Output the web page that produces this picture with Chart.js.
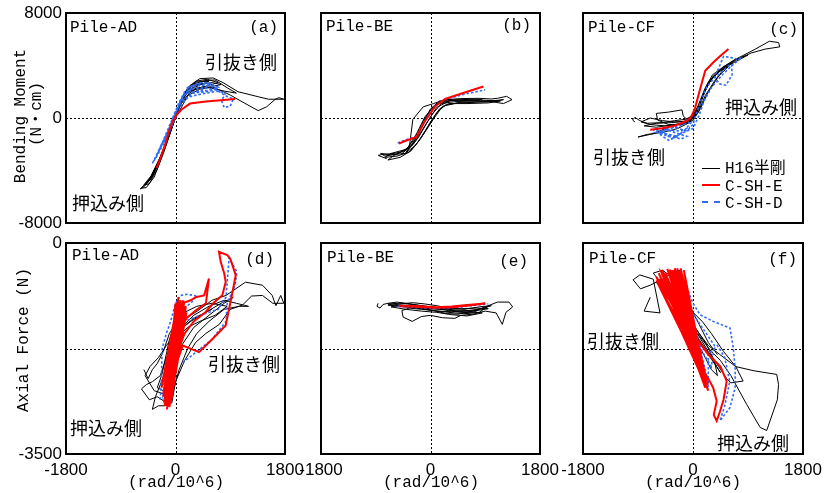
<!DOCTYPE html>
<html><head><meta charset="utf-8">
<script src="https://cdn.jsdelivr.net/npm/chart.js@4/dist/chart.umd.min.js"></script>
<style>
html,body{margin:0;padding:0;background:#fff;}
#wrap{position:relative;width:826px;height:493px;overflow:hidden;background:#fff;}
canvas{position:absolute;}
.t{position:absolute;white-space:nowrap;color:#000;line-height:1;}
.mono{font-family:"Liberation Mono","Noto Sans CJK JP",monospace;font-size:16px;}
.jp{font-family:"Noto Sans CJK JP",sans-serif;font-size:18px;}
.leg{position:absolute;width:18px;height:0;}
</style></head><body><div id="wrap"></div>
<script>
// ---- tick labels ----
const xTicks=[-1800,0,1800];
const yTicksMoment=[8000,0,-8000];
const yTicksAxial=[0,-3500];
const seriesNames=['H16半剛','C-SH-E','C-SH-D'];

// ---- Panel (a) Pile-AD : rotation vs bending moment ----
const aBlack=[[-60,-600],[40,700],[150,1900],[280,2500],[450,2650],[300,2300],[150,1800],[20,300],[-120,-1400],[-280,-3300],[-420,-4650],[-560,-5350],[-480,-5300],[-350,-4500],[-200,-2700],[-70,-900],[60,900],[180,2100],[330,2800],[520,2950],[700,2700],[520,2450],[300,2150],[120,1400],[-30,-300],[-180,-2300],[-350,-4100],[-500,-5100],[-430,-5000],[-300,-3900],[-150,-2000],[-20,-150],[100,1500],[230,2450],[400,3000],[620,3050],[780,2700],[1030,2000],[1360,1620],[1530,1430],[1780,1430],[1700,1550],[1640,1430],[1500,860],[1360,560],[1140,1120],[900,1750],[650,2300],[450,2400],[250,2000],[80,1000],[-80,-1000],[-260,-3100],[-440,-4800],[-580,-5400],[-520,-5250],[-380,-4500],[-230,-2900],[-90,-1000],[40,600],[170,2000],[300,2600],[480,2850],[650,2900],[850,2300],[1000,1900],[800,2050],[560,2300],[350,2300],[180,1900],[60,900],[-100,-1300],[-250,-3000],[-400,-4400],[-520,-5100],[-450,-4900],[-320,-3800],[-180,-2200],[-50,-500],[70,1100],[200,2300],[350,2750],[550,2800],[420,2550],[250,2250],[100,1300],[-40,-500],[-200,-2600],[-370,-4300],[-470,-4950],[-400,-4600],[-270,-3400],[-130,-1600],[10,200],[140,1800],[260,2400],[380,2550],[600,2700],[750,2550],[600,2400],[400,2200],[200,1700],[60,500]];
const aRed=[[-310,-3800],[-250,-3100],[-170,-2050],[-100,-900],[-40,-200],[20,250],[100,650],[240,1100],[500,1250],[750,1350],[980,1450]];
const aBlue=[[-380,-3450],[-300,-2700],[-200,-1700],[-110,-700],[-30,200],[60,1200],[150,2000],[250,2400],[400,2600],[560,2600],[700,2350],[520,2100],[300,2000],[150,1800],[40,700],[-60,-300],[-160,-1500],[-280,-2700],[-360,-3300],[-250,-2300],[-120,-1000],[0,400],[120,1600],[250,2200],[450,2300],[650,2200],[820,1700],[950,1450],[900,900],[800,800],[760,1300],[820,1900],[700,2050],[500,1900],[300,1700],[150,1500],[50,900],[-40,0],[-140,-1200],[-230,-2000],[-330,-3100],[-200,-2000],[-60,-500],[80,1300],[200,2100],[350,2450],[550,2500],[700,2200],[500,2000],[300,1900],[200,2300],[400,2700],[600,2650],[450,2200],[250,1800],[100,1000],[-20,-200],[-180,-1900]];

// ---- Panel (b) Pile-BE ----
const bBlack=[[-720,-3100],[-860,-2850],[-800,-2780],[-600,-2700],[-450,-2550],[-300,-2050],[-170,-900],[-50,300],[100,1100],[250,1400],[500,1480],[800,1500],[1000,1450],[1100,1500],[1250,1650],[1340,1400],[1200,1100],[1000,1250],[800,1250],[500,1200],[250,1000],[100,400],[-50,-700],[-200,-1800],[-350,-2600],[-550,-2900],[-750,-3000],[-650,-2700],[-450,-2450],[-350,-2300],[-290,-100],[-120,850],[50,1100],[250,1400],[650,1380],[900,1350],[1150,1300],[950,1150],[600,1100],[300,1100],[150,700],[0,-300],[-150,-1500],[-320,-2500],[-500,-3000],[-700,-3200],[-600,-2850],[-400,-2400],[-280,-1700],[-130,-400],[0,700],[150,1300],[350,1400],[100,800],[-50,-300],[-200,-1500],[-400,-2600],[-200,-1300],[-100,-100],[30,800],[180,1250],[400,1350],[700,1320],[1000,1300],[1200,1400],[1050,1250],[750,1200],[450,1150],[200,900],[60,0],[-80,-1000],[-250,-2100],[-420,-2700],[-650,-2800],[-820,-2700],[-750,-2900],[-550,-2750],[-380,-2300],[-230,-1200],[-90,100],[80,1000],[300,1300],[600,1420],[850,1430],[700,1300],[400,1250],[180,1100],[30,300],[-120,-800],[-280,-2000],[-480,-2750]];
const bRed=[[-520,-1950],[-420,-1750],[-230,-1450],[-100,-300],[80,900],[240,1450],[500,1850],[870,2400]];
const bBlue=[[-540,-1900],[-400,-1650],[-240,-1450],[-110,-300],[70,900],[230,1400],[500,1750],[900,2150]];

// ---- Panel (c) Pile-CF ----
const cBlack=[[-950,-300],[-990,-150],[-950,50],[-870,-200],[-750,-400],[-500,-350],[-300,-200],[-120,-100],[0,200],[80,900],[200,2300],[320,3300],[500,3900],[750,4600],[1000,5200],[1250,5850],[1400,5750],[1420,5420],[1180,5250],[950,4950],[700,4400],[450,3700],[250,2700],[120,1300],[30,200],[-80,-400],[-250,-800],[-500,-1100],[-750,-1250],[-900,-1450],[-650,-1200],[-400,-700],[-200,-400],[-50,-200],[50,300],[150,1600],[280,2900],[450,3600],[650,4200],[500,3700],[350,2800],[200,1700],[80,400],[-50,-300],[-200,-500],[-400,-500],[-580,-150],[-600,350],[-400,450],[-180,620],[-160,150],[-100,-100],[0,100],[100,1000],[220,2400],[380,3400],[600,4000],[420,3200],[240,1900],[120,700],[0,-200],[-150,-450],[-450,-600],[-700,-500],[-850,-300],[-700,0],[-500,-200],[-300,-300],[-100,-250],[30,100],[100,800],[200,2100],[330,3200],[500,3800],[700,4300],[900,4800],[700,4500],[480,3850],[300,3000],[170,1800],[60,500],[-100,-300],[-300,-500],[-600,-700],[-800,-600],[-600,-400],[-350,-350],[-150,-250],[20,0],[130,1300],[260,2700],[420,3500]];
const cRed=[[-700,-900],[-500,-780],[-290,-570],[-120,-250],[-40,0],[30,700],[110,2100],[200,3600],[330,4230],[450,4750],[580,5250]];
const cBlue=[[-600,-900],[-400,-1300],[-200,-1600],[-100,-1400],[-300,-1100],[-500,-800],[-300,-700],[-100,-1000],[0,-500],[50,300],[120,1200],[230,2400],[360,3100],[470,3500],[560,3900],[630,4100],[640,3300],[540,2500],[430,2600],[350,3200],[420,3800],[500,4700],[630,4600],[720,4500],[800,4600],[650,4050],[480,3300],[300,2300],[180,1300],[100,200],[0,-800],[-200,-1200],[-400,-1700],[-650,-900],[-550,-1200],[-300,-1500],[-150,-1000],[-20,-300],[-500,-1000],[-350,-1600],[-250,-1400],[-450,-1200],[-600,-1100],[-400,-900],[-200,-1000],[-50,-700]];

// ---- Panel (d) Pile-AD : rotation vs axial force ----
const dBlack=[[-520,-2100],[-450,-2250],[-380,-2100],[-300,-2000],[-200,-1800],[-100,-1500],[0,-1350],[150,-1250],[330,-1150],[600,-950],[830,-870],[1150,-650],[1430,-700],[1590,-870],[1650,-1040],[1730,-870],[1780,-1000],[1600,-1000],[1430,-870],[1250,-880],[1100,-1030],[900,-1100],[720,-1350],[500,-1500],[330,-1650],[150,-1950],[0,-2300],[-60,-2650],[-170,-2700],[-280,-2700],[-380,-2760],[-330,-2550],[-230,-2300],[-120,-2000],[-30,-1700],[100,-1400],[300,-1200],[550,-1050],[800,-950],[1000,-1000],[1200,-1050],[1050,-1050],[800,-1100],[550,-1300],[350,-1500],[200,-1750],[60,-2100],[-50,-2500],[-150,-2650],[-300,-2550],[-430,-2600],[-560,-2420],[-480,-2350],[-380,-2300],[-250,-2200],[-150,-1900],[0,-1600],[200,-1400],[400,-1300],[650,-1200],[850,-1050],[600,-1000],[350,-1050],[150,-1150],[0,-1300],[-100,-1600],[-220,-2170],[-300,-2400],[-200,-2450],[-80,-2200],[0,-1500],[250,-1300],[500,-1150],[750,-1000],[950,-900],[800,-1000],[550,-1200],[300,-1400],[100,-1700],[-50,-2100],[-200,-2500],[-350,-2450],[-500,-2200],[-420,-2050],[-280,-1900],[-150,-1700],[50,-1450],[300,-1250],[600,-1100]];
const dRed=[[-180,-2700],[40,-1100],[-160,-2650],[80,-1000],[-140,-2760],[100,-1050],[-120,-2600],[130,-950],[-200,-2550],[20,-1080],[-100,-2720],[150,-1100],[-150,-2480],[60,-950],[-80,-2650],[140,-1000],[-230,-2400],[0,-1150],[-170,-2620],[90,-1080],[-60,-2550],[170,-1050],[-210,-2300],[50,-900],[-130,-2500],[110,-1000],[250,-950],[330,-900],[470,-870],[550,-590],[500,-1000],[330,-1120],[180,-1250],[50,-1500],[-60,-2000],[-90,-2500],[-20,-2100],[120,-1700],[386,-1811],[600,-1600],[825,-1367],[920,-900],[990,-533],[900,-260],[852,-200],[715,-145],[743,-312],[800,-500],[825,-645],[770,-867],[620,-1000],[496,-1145],[300,-1300],[150,-1500],[0,-1900],[-120,-2350],[-190,-2650],[60,-1050],[-150,-2600],[100,-1150],[-110,-2700],[30,-1000],[-190,-2450],[160,-1100],[-70,-2600],[70,-1050],[-130,-2680],[120,-1000],[-220,-2350],[40,-1150],[-90,-2580],[150,-1050],[-170,-2550],[20,-1100],[-100,-2650],[90,-950],[-200,-2500],[180,-1150],[-50,-2450],[0,-1000],[-150,-2700],[110,-1100]];
const dBlue=[[-250,-2600],[-230,-2200],[-220,-1750],[-150,-1500],[-80,-1300],[0,-1000],[80,-870],[200,-850],[350,-880],[250,-1000],[100,-1100],[-50,-1500],[-150,-2000],[-200,-2500],[-100,-2200],[0,-1600],[150,-1300],[400,-1200],[700,-1100],[830,-900],[870,-400],[880,-250],[1010,-480],[980,-700],[850,-1000],[830,-1300],[600,-1600],[350,-1800],[100,-2000]];

// ---- Panel (e) Pile-BE ----
const eBlack=[[-860,-1000],[-880,-1050],[-830,-1080],[-780,-1020],[-700,-1000],[-550,-980],[-400,-1000],[-200,-1030],[0,-1060],[200,-1090],[400,-1110],[600,-1120],[800,-1100],[950,-1050],[800,-1150],[600,-1170],[400,-1160],[200,-1140],[0,-1110],[-200,-1080],[-400,-1060],[-600,-1040],[-700,-1010],[-500,-1000],[-300,-1020],[-100,-1050],[100,-1080],[300,-1120],[500,-1150],[700,-1150],[900,-1060],[1100,-980],[1290,-980],[1350,-1060],[1240,-1150],[1180,-1350],[1080,-1160],[900,-1130],[700,-1180],[500,-1200],[400,-1250],[200,-1240],[0,-1200],[-150,-1220],[-300,-1300],[-450,-1230],[-470,-1120],[-350,-1080],[-150,-1100],[50,-1120],[250,-1170],[450,-1180],[650,-1140],[850,-1080],[1000,-1040],[800,-1060],[550,-1100],[300,-1080],[100,-1040],[-100,-1010],[-300,-990],[-550,-1020],[-700,-1030],[-500,-1050],[-250,-1070],[0,-1090],[250,-1110],[500,-1130],[750,-1120],[950,-1090],[750,-1080],[500,-1090],[250,-1090],[0,-1070],[-250,-1050],[-500,-1030],[-650,-1060],[-400,-1100],[-150,-1130],[100,-1150],[350,-1190],[600,-1210],[850,-1160],[600,-1130],[350,-1140],[100,-1130],[-150,-1090],[-400,-1040]];
const eRed=[[-520,-1040],[-300,-1045],[-100,-1055],[100,-1065],[350,-1055],[600,-1030],[900,-1005],[600,-1040],[350,-1065],[100,-1075],[-100,-1065],[-300,-1055],[-520,-1050]];
const eBlue=[[-540,-1050],[-300,-1060],[0,-1080],[300,-1075],[600,-1050],[950,-1010]];

// ---- Panel (f) Pile-CF ----
const fBlack=[[-700,-900],[-800,-1130],[-540,-1160],[-650,-600],[-870,-530],[-980,-610],[-860,-760],[-700,-700],[-500,-600],[-350,-500],[-220,-450],[-190,-850],[-300,-900],[-450,-700],[-300,-800],[-100,-1100],[0,-1350],[100,-1500],[250,-1700],[440,-1850],[700,-2050],[1000,-2120],[1370,-2180],[1400,-2350],[1380,-2600],[1206,-3110],[1100,-3060],[880,-2680],[620,-2200],[450,-1950],[300,-1800],[150,-1600],[0,-1400],[-150,-1200],[-300,-950],[-450,-700],[-550,-600],[-400,-900],[-250,-1100],[-80,-1300],[100,-1550],[250,-1800],[420,-2050],[550,-2250],[620,-2320],[820,-2290],[700,-2050],[500,-1800],[300,-1500],[150,-1300],[0,-1150],[-200,-900],[-400,-700],[-600,-650],[-450,-850],[-250,-1100],[0,-1350],[200,-1650],[350,-1950],[400,-2200],[300,-2100],[150,-1800],[-50,-1500],[-250,-1200],[-350,-1000],[-500,-700],[-300,-1000],[-100,-1300],[100,-1600],[300,-1900],[450,-2150],[350,-2000],[150,-1700],[-50,-1350],[-250,-1050],[-450,-750],[-650,-500],[-500,-450],[-300,-600],[-100,-950],[100,-1350],[250,-1650],[400,-1850]];
const fRed=[[-500,-450],[50,-1800],[-400,-480],[100,-1900],[-300,-420],[0,-1700],[-550,-600],[150,-2000],[-350,-450],[200,-2300],[-250,-480],[-50,-1500],[-450,-500],[80,-1950],[-200,-420],[120,-2100],[-380,-500],[250,-2450],[-600,-560],[-20,-1600],[-300,-600],[180,-2150],[-150,-450],[60,-1750],[-480,-520],[220,-2400],[-330,-460],[140,-1850],[-420,-650],[-80,-1400],[250,-1849],[450,-2050],[551,-2290],[500,-2600],[440,-2800],[388,-2950],[340,-2850],[388,-2620],[330,-2400],[250,-2250],[100,-2000],[-100,-1300],[-300,-800],[-450,-550],[-520,-480],[100,-2050],[-420,-430],[180,-2300],[-280,-520],[30,-1800],[-560,-500],[130,-2150],[-320,-450],[-30,-1650],[-460,-560],[200,-2400],[-220,-460],[60,-1900],[-380,-440],[160,-2200],[-600,-620],[0,-1750],[-260,-420],[240,-2350],[-180,-520],[90,-2000],[-500,-600]];
const fBlue=[[-300,-500],[-100,-750],[0,-1000],[115,-1190],[330,-1300],[605,-1410],[660,-1740],[690,-2100],[690,-2400],[605,-2730],[442,-2950],[520,-2700],[600,-2300],[520,-1900],[400,-1700],[250,-1850],[250,-2390],[200,-2100],[100,-1700],[-100,-1300],[-200,-1000],[-150,-700],[0,-1300],[150,-1800],[300,-2050],[350,-1700],[150,-1400],[-50,-1100]];

const wrap=document.getElementById('wrap');
const toPts=a=>a.map(p=>({x:p[0],y:p[1]}));

const framePlugin={id:'frame',
  beforeDatasetsDraw(c,args,o){
    const {ctx,chartArea:ca,scales:{x,y}}=c;
    ctx.save();ctx.strokeStyle='#000';ctx.lineWidth=1;ctx.setLineDash([2,2]);
    const x0=Math.round(x.getPixelForValue(0))+0.5;
    const y0=Math.round(y.getPixelForValue(o.yMid))+0.5;
    ctx.beginPath();ctx.moveTo(x0,ca.top);ctx.lineTo(x0,ca.bottom);
    ctx.moveTo(ca.left,y0);ctx.lineTo(ca.right,y0);ctx.stroke();ctx.restore();
  },
  afterDatasetsDraw(c){
    const {ctx,chartArea:ca}=c;
    ctx.save();ctx.strokeStyle='#000';ctx.lineWidth=2;ctx.setLineDash([]);
    ctx.strokeRect(ca.left,ca.top,ca.right-ca.left,ca.bottom-ca.top);ctx.restore();
  }};

const ML=60,MR=30,MT=15,MB=45;
function makePanel(p){
  const cv=document.createElement('canvas');
  const W=p.w+ML+MR,H=p.h+MT+MB;
  cv.width=W;cv.height=H;
  cv.style.left=(p.left-ML)+'px';cv.style.top=(p.top-MT)+'px';
  cv.style.width=W+'px';cv.style.height=H+'px';
  wrap.appendChild(cv);
  const common={showLine:true,pointRadius:0,fill:false,tension:0};
  new Chart(cv,{type:'scatter',
    data:{datasets:[
      Object.assign({label:seriesNames[0],data:toPts(p.black),borderColor:'#000000',borderWidth:1,order:2},common),
      Object.assign({label:seriesNames[2],data:toPts(p.blue),borderColor:'#2f6cf6',borderWidth:1.6,borderDash:[2.5,2],order:1},common),
      Object.assign({label:seriesNames[1],data:toPts(p.red),borderColor:'#ff0000',borderWidth:2,order:0},common)
    ]},
    options:{responsive:false,animation:false,devicePixelRatio:1,
      layout:{padding:{left:0,right:MR,top:MT,bottom:0}},
      plugins:{legend:{display:false},tooltip:{enabled:false},frame:{yMid:p.yMid}},
      scales:{
        x:{type:'linear',min:-1800,max:1800,
          afterBuildTicks:s=>{s.ticks=xTicks.map(v=>({value:v}));},
          afterFit:s=>{s.height=MB;},
          grid:{display:false,drawTicks:false},border:{display:false},
          ticks:{display:p.showX,autoSkip:false,maxRotation:0,padding:6,color:'#000',font:{family:'Liberation Sans',size:17},callback:v=>String(v)}},
        y:{type:'linear',min:p.yMin,max:p.yMax,
          afterBuildTicks:s=>{s.ticks=p.yTicks.map(v=>({value:v}));},
          afterFit:s=>{s.width=ML;},
          grid:{display:false,drawTicks:false},border:{display:false},
          ticks:{display:p.showY,autoSkip:false,padding:4,color:'#000',font:{family:'Liberation Sans',size:17},callback:v=>String(v)}}
      }},
    plugins:[framePlugin]});
}

const panels=[
 {left:66,top:13,w:219,h:210,yMin:-8000,yMax:8000,yMid:0,yTicks:yTicksMoment,showY:true,showX:false,black:aBlack,red:aRed,blue:aBlue},
 {left:321,top:13,w:219,h:210,yMin:-8000,yMax:8000,yMid:0,yTicks:yTicksMoment,showY:false,showX:false,black:bBlack,red:bRed,blue:bBlue},
 {left:583,top:13,w:220,h:210,yMin:-8000,yMax:8000,yMid:0,yTicks:yTicksMoment,showY:false,showX:false,black:cBlack,red:cRed,blue:cBlue},
 {left:66,top:243,w:219,h:211,yMin:-3500,yMax:0,yMid:-1750,yTicks:yTicksAxial,showY:true,showX:true,black:dBlack,red:dRed,blue:dBlue},
 {left:321,top:243,w:219,h:211,yMin:-3500,yMax:0,yMid:-1750,yTicks:yTicksAxial,showY:false,showX:true,black:eBlack,red:eRed,blue:eBlue},
 {left:583,top:243,w:220,h:211,yMin:-3500,yMax:0,yMid:-1750,yTicks:yTicksAxial,showY:false,showX:true,black:fBlack,red:fRed,blue:fBlue}
];
panels.forEach(makePanel);

// ---- text annotations ----
function txt(s,cls,x,y,mode,rot){
  const d=document.createElement('div');d.className='t '+cls;d.textContent=s;
  d.style.left=x+'px';d.style.top=y+'px';
  let tf=mode==='r'?'translate(-100%,-50%)':mode==='c'?'translate(-50%,-50%)':'translate(0,-50%)';
  if(rot) tf='translate(-50%,-50%) rotate(-90deg)';
  d.style.transform=tf;wrap.appendChild(d);
}
txt('Pile-AD','mono',70,28);txt('(a)','mono',278,28,'r');
txt('引抜き側','jp',205,61);txt('押込み側','jp',72,202);
txt('Pile-BE','mono',326,27);txt('(b)','mono',531,26,'r');
txt('Pile-CF','mono',588,28);txt('(c)','mono',798,30,'r');
txt('押込み側','jp',725,106);txt('引抜き側','jp',593,156);
txt('Pile-AD','mono',72,256);txt('(d)','mono',274,260,'r');
txt('引抜き側','jp',208,363);txt('押込み側','jp',70,427);
txt('Pile-BE','mono',327,258);txt('(e)','mono',528,262,'r');
txt('Pile-CF','mono',589,259);txt('(f)','mono',797,260,'r');
txt('引抜き側','jp',587,340);txt('押込み側','jp',717,442);
txt('Bending Moment','mono',21,116,'c',true);
txt('(N・cm)','mono',37,114,'c',true);
txt('Axial Force (N)','mono',24,340,'c',true);
txt('(rad/10^6)','mono',176,483,'c');txt('(rad/10^6)','mono',431,483,'c');txt('(rad/10^6)','mono',693,483,'c');
// legend in panel (c)
function legLine(y,style){const l=document.createElement('div');l.className='leg';l.style.left='702px';l.style.top=y+'px';l.style.borderTop=style;wrap.appendChild(l);}
legLine(168,'1px solid #000');legLine(183.5,'2px solid #ff0000');legLine(201,'2px dashed #2f6cf6');
txt(seriesNames[0],'mono',725,169);txt(seriesNames[1],'mono',725,187);txt(seriesNames[2],'mono',725,204);
</script></body></html>
